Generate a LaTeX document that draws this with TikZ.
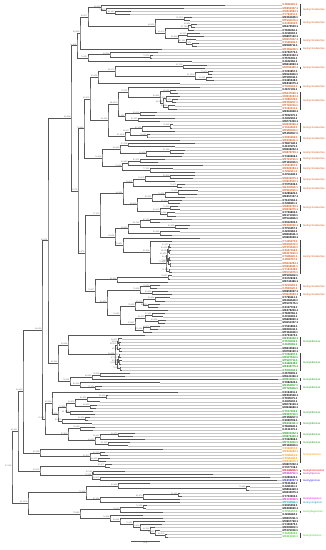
\documentclass[tikz,border=0pt]{standalone}
\usepackage{fontspec}
\setmainfont{Liberation Sans}
\usetikzlibrary{calc}
\definecolor{ck}{RGB}{0,0,0}
\definecolor{co}{RGB}{210,85,25}
\definecolor{cg}{RGB}{25,150,25}
\definecolor{clo}{RGB}{255,140,0}
\definecolor{cr}{RGB}{240,0,0}
\definecolor{cp}{RGB}{165,40,200}
\definecolor{cbl}{RGB}{30,30,240}
\definecolor{cm}{RGB}{230,0,230}
\definecolor{ct}{RGB}{0,160,160}
\definecolor{cli}{RGB}{60,210,30}
% accession number of leaf #1
\newcommand\acc[1]{%
  \pgfmathtruncatemacro\accP{mod(#1*7,9)}%
  \pgfmathtruncatemacro\accA{mod(#1*37+11,90)+10}%
  \pgfmathtruncatemacro\accB{mod(#1*53+29,900)+100}%
  \pgfmathtruncatemacro\accC{mod(#1*7+3,10)}%
  \ifcase\accP KT\or KY\or MK\or MH\or KX\or MN\or MT\or KJ\or MF\fi\accA\accB\accC.1}
% internal node: name, x, upper child, lower child
\newcommand\clade[4]{%
  \path let \p1=(#3), \p2=(#4) in coordinate (#1) at (#2pt,{(\y1+\y2)/2});
  \draw[treeline] (#3) -| (#1) |- (#4);
  \pgfmathrandominteger{\supA}{650}{1000}%
  \pgfmathrandominteger{\supB}{55}{100}%
  \pgfmathtruncatemacro\supC{\supA/10}%
  \pgfmathtruncatemacro\supD{mod(\supA,10)}%
  \node[support] (sup-#1) at (#1) {\supC.\supD/\supB};}
\begin{document}
\begin{tikzpicture}[x=1pt,y=-1pt,
  treeline/.style={line width=0.55pt,black!66},
  tipline/.style={line width=0.25pt,black!22},
  tiplabel/.style={anchor=west,inner sep=0.4pt,font=\fontsize{2.7}{3}\selectfont\bfseries},
  support/.style={anchor=south east,inner sep=0.25pt,text=black!60,font=\fontsize{1.9}{2}\selectfont},
  cladebar/.style={line width=0.7pt,black!75},
  cladename/.style={anchor=west,inner sep=0pt,font=\fontsize{2.7}{3}\selectfont}]
\useasboundingbox (0,0) rectangle (325,550);
\pgfmathsetseed{2718}
% leaves
\foreach \tip/\col [count=\k] in {
  225/o,184/o,131/o,130/o,192/k,190/o,197/o,195/k,194/k,200/k,
  204/k,196/o,199/o,197/k,162/o,158/k,153/k,152/k,192/k,207/k,
  205/o,213/k,212/k,212/k,214/k,180/k,200/o,176/k,178/o,180/o,
  178/o,176/o,175/o,177/o,157/k,155/k,175/k,160/k,173/o,172/o,
  175/o,150/k,148/o,180/o,195/k,175/k,185/k,184/o,182/k,165/o,
  158/k,203/o,173/o,195/o,195/k,193/o,175/o,185/k,182/o,198/o,
  197/k,185/k,182/k,180/k,178/o,180/o,175/k,176/k,172/k,160/k,
  190/o,188/k,180/k,172/k,200/k,172/o,170/o,171/o,171/o,170/o,
  170/o,171/o,171/o,171/o,170/o,172/o,172/k,170/k,168/k,160/o,
  157/o,168/k,172/o,170/k,165/k,160/k,158/k,168/k,165/k,163/k,
  166/k,165/k,160/k,158/k,152/k,145/k,122/g,121/g,120/g,121/k,
  122/k,120/g,121/g,122/g,121/g,121/g,122/g,130/k,125/k,278/g,
  160/k,102/g,100/g,178/k,108/k,107/k,100/k,97/k,96/k,93/g,
  95/g,90/k,88/k,92/g,95/k,93/k,135/g,133/g,145/k,130/g,
  128/k,163/lo,105/lo,108/lo,110/lo,106/lo,112/k,110/k,125/r,213/p,
  270/k,277/bl,150/k,250/k,249/k,180/k,182/k,180/m,180/t,147/k,
  146/k,163/li,143/k,163/k,165/k,162/k,155/k,160/k,167/li,168/li} {
  \coordinate (L\k) at (\tip,{5+(\k-1)*3.148});
  \node[tiplabel,text=c\col] (T\k) at (282,{5+(\k-1)*3.148}) {\acc{\k}};
  \draw[tipline] (L\k) -- (T\k.west);
}
% tree
\clade{c1}{115}{L3}{L4}
\clade{c2}{106}{L2}{c1}
\clade{c3}{101}{L1}{c2}
\clade{c4}{184}{L5}{L6}
\clade{c5}{191}{L7}{L8}
\clade{c6}{188}{c5}{L9}
\clade{c7}{187}{L10}{L11}
\clade{c8}{192}{L13}{L14}
\clade{c9}{186}{L12}{c8}
\clade{c10}{178}{c7}{c9}
\clade{c11}{165}{c6}{c10}
\clade{c12}{155}{c4}{c11}
\clade{c13}{88}{c3}{c12}
\clade{c14}{80}{c13}{L15}
\clade{c15}{150}{L17}{L18}
\clade{c16}{110}{L16}{c15}
\clade{c17}{88}{c16}{L19}
\clade{c18}{77}{c14}{c17}
\clade{c19}{183}{L20}{L21}
\clade{c20}{208}{L22}{L23}
\clade{c21}{206}{L24}{L25}
\clade{c22}{195}{c20}{c21}
\clade{c23}{115}{c19}{c22}
\clade{c24}{98}{c23}{L26}
\clade{c25}{170}{L28}{L29}
\clade{c26}{172}{L31}{L32}
\clade{c27}{166}{L30}{c26}
\clade{c28}{168}{L33}{L34}
\clade{c29}{163}{c27}{c28}
\clade{c30}{160}{c25}{c29}
\clade{c31}{128}{L27}{c30}
\clade{c32}{140}{L35}{L36}
\clade{c33}{138}{L37}{L38}
\clade{c34}{125}{c32}{c33}
\clade{c35}{118}{c31}{c34}
\clade{c36}{170}{L39}{L40}
\clade{c37}{142}{c36}{L41}
\clade{c38}{147}{L42}{L43}
\clade{c39}{130}{c37}{c38}
\clade{c40}{125}{c39}{L44}
\clade{c41}{108}{c35}{c40}
\clade{c42}{90}{c24}{c41}
\clade{s1}{128}{L45}{L46}
\clade{s2}{170}{L47}{L48}
\clade{s3}{146}{s2}{L49}
\clade{s4}{120}{s1}{s3}
\clade{s5}{140}{L50}{L51}
\clade{s6}{128}{s5}{L52}
\clade{s7}{150}{L53}{L54}
\clade{s8}{122}{s6}{s7}
\clade{s9}{102}{s4}{s8}
\clade{c43}{84}{c42}{s9}
\clade{t1}{170}{L55}{L56}
\clade{t2}{145}{t1}{L57}
\clade{t3}{177}{L58}{L59}
\clade{t4}{133}{t2}{t3}
\clade{t5}{178}{L60}{L61}
\clade{t6}{165}{t5}{L62}
\clade{t7}{168}{L63}{L64}
\clade{t8}{152}{t6}{t7}
\clade{t9}{170}{L65}{L66}
\clade{t10}{167}{L67}{L68}
\clade{t11}{160}{t9}{t10}
\clade{t12}{137}{t8}{t11}
\clade{t13}{123}{t4}{t12}
\clade{u1}{150}{L69}{L70}
\clade{u2}{175}{L71}{L72}
\clade{u3}{140}{u1}{u2}
\clade{u4}{160}{L73}{L74}
\clade{u5}{128}{u3}{u4}
\clade{u6}{169}{L77}{L78}
\clade{u7}{169}{L79}{L80}
\clade{u8}{168}{u6}{u7}
\clade{u9}{169}{L81}{L82}
\clade{u10}{170}{L83}{L84}
\clade{u11}{168.5}{u9}{u10}
\clade{u12}{167}{u8}{u11}
\clade{u13}{169}{L85}{L86}
\clade{u14}{166}{u12}{u13}
\clade{u15}{150}{L76}{u14}
\clade{u16}{123}{L75}{u15}
\clade{u17}{115}{u5}{u16}
\clade{v1}{168}{L87}{L88}
\clade{v2}{117}{v1}{L89}
\clade{v3}{150}{L90}{L91}
\clade{v4}{152}{L92}{L93}
\clade{v5}{140}{v3}{v4}
\clade{v6}{155}{L94}{L95}
\clade{v7}{148}{L96}{L97}
\clade{v8}{143}{v6}{v7}
\clade{v9}{135}{v8}{L98}
\clade{v10}{152}{L99}{L100}
\clade{v11}{158}{L101}{L102}
\clade{v12}{145}{v10}{v11}
\clade{v13}{150}{L103}{L104}
\clade{v14}{143}{v13}{L105}
\clade{v15}{135}{v12}{v14}
\clade{v16}{120}{v9}{v15}
\clade{v17}{107}{v5}{v16}
\clade{v18}{95}{v2}{v17}
\clade{w1}{100}{t13}{u17}
\clade{w2}{85}{w1}{v18}
\clade{w3}{78}{c43}{w2}
\clade{c44}{71}{c18}{w3}
\clade{g1}{119}{L108}{L109}
\clade{g2}{118}{L107}{g1}
\clade{g3}{119}{L110}{L111}
\clade{g4}{117}{g2}{g3}
\clade{g5}{119}{L112}{L113}
\clade{g6}{119}{L114}{L115}
\clade{g7}{120}{L116}{L117}
\clade{g8}{118}{g5}{g6}
\clade{g9}{117.5}{g8}{g7}
\clade{g10}{115}{g4}{g9}
\clade{g11}{68}{L106}{g10}
\clade{g12}{100}{L118}{L119}
\clade{g13}{92}{g12}{L120}
\clade{g14}{95}{L122}{L123}
\clade{g15}{80}{L121}{g14}
\clade{g16}{70}{g13}{g15}
\clade{g17}{58}{g11}{g16}
\clade{h1}{106}{L125}{L126}
\clade{h2}{87}{h1}{L127}
\clade{h3}{90}{L128}{L129}
\clade{h4}{75}{h2}{h3}
\clade{h5}{70}{L130}{L131}
\clade{h6}{66}{h4}{h5}
\clade{h7}{85}{L132}{L133}
\clade{h8}{62}{h7}{L134}
\clade{h9}{58}{h6}{h8}
\clade{h10}{52}{L124}{h9}
\clade{h11}{80}{L135}{L136}
\clade{h12}{118}{L137}{L138}
\clade{h13}{100}{h12}{L139}
\clade{h14}{108}{L140}{L141}
\clade{h15}{95}{h13}{h14}
\clade{h16}{68}{h11}{h15}
\clade{lo1}{100}{L143}{L144}
\clade{lo2}{98}{L145}{L146}
\clade{lo3}{90}{lo1}{lo2}
\clade{lo4}{40}{L142}{lo3}
\clade{m1}{105}{L147}{L148}
\clade{m2}{93}{L149}{L150}
\clade{m3}{100}{L151}{L152}
\clade{m4}{92}{m2}{m3}
\clade{m5}{40}{m1}{m4}
\clade{b1}{246}{L154}{L155}
\clade{b2}{118}{L153}{b1}
\clade{b3}{178}{L156}{L157}
\clade{b4}{143}{b3}{L158}
\clade{b5}{100}{b4}{L159}
\clade{b6}{86}{b2}{b5}
\clade{b7}{143}{L160}{L161}
\clade{b8}{120}{b7}{L162}
\clade{b9}{165}{L169}{L170}
\clade{b10}{155}{L168}{b9}
\clade{b11}{150}{L167}{b10}
\clade{b12}{140}{L166}{b11}
\clade{b13}{133}{L165}{b12}
\clade{b14}{120}{L164}{b13}
\clade{b15}{110}{L163}{b14}
\clade{b16}{80}{b8}{b15}
\clade{b17}{28}{b6}{b16}
\clade{X1}{48}{c44}{g17}
\clade{X2}{45}{h10}{h16}
\clade{X3}{42}{X1}{X2}
\clade{X4}{23}{X3}{lo4}
\clade{X5}{18}{X4}{m5}
\clade{R}{12}{X5}{b17}
% clade bars
\foreach \ga/\gb/\gc/\gn in {
  1/4/o/Gemycircularvirus,6/7/o/Gemycircularvirus,12/13/o/Gemycircularvirus,
  15/15/o/Gemycircularvirus,21/21/o/Gemycircularvirus,27/27/o/Gemycircularvirus,
  29/34/o/Gemycircularvirus,39/41/o/Gemycircularvirus,43/44/o/Gemycircularvirus,
  48/48/o/Gemycircularvirus,50/50/o/Gemycircularvirus,52/54/o/Gemycircularvirus,
  56/57/o/Gemycircularvirus,59/60/o/Gemycircularvirus,65/66/o/Gemycircularvirus,
  71/71/o/Gemycircularvirus,76/86/o/Gemycircularvirus,90/91/o/Gemycircularvirus,
  93/93/o/Gemycircularvirus,107/109/g/Gemykibivirus,112/117/g/Gemykibivirus,
  120/120/g/Gemykibivirus,122/123/g/Gemykibivirus,130/131/g/Gemykibivirus,
  134/134/g/Gemykibivirus,137/138/g/Gemykibivirus,140/140/g/Gemykibivirus,
  142/146/lo/Gemykolovirus,149/149/r/Gemykroznavirus,150/150/p/Gemytripvirus,
  152/152/bl/Gemygorvirus,158/158/m/Gemykrogvirus,159/159/t/Gemyvongvirus,
  162/162/li/Gemyduguivirus,169/170/li/Gemytondvirus} {
  \pgfmathsetmacro\ya{5+(\ga-1)*3.148-1.3}
  \pgfmathsetmacro\yb{5+(\gb-1)*3.148+1.3}
  \coordinate (ctop\ga) at (300.5,\ya);
  \coordinate (cbot\ga) at (300.5,\yb);
  \draw[cladebar] (ctop\ga) -- (cbot\ga);
  \node[cladename,text=c\gc] (N\ga) at (303,{(\ya+\yb)/2}) {\gn};
}
% scale bar
\coordinate (sb0) at (131,541);
\coordinate (sb1) at (160,541);
\draw[treeline] (sb0) -- (sb1) node[midway,below=0.8pt,inner sep=0pt,font=\fontsize{2.7}{3}\selectfont] (sbl) {0.2};
\end{tikzpicture}
\end{document}
